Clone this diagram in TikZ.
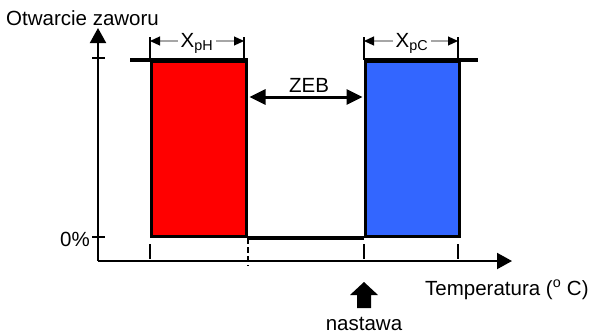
\documentclass[tikz,border=0pt]{standalone}
\usepackage{fontspec}
\setmainfont{Liberation Sans}
\usetikzlibrary{arrows.meta}
\definecolor{cblue}{RGB}{51,102,255}
\begin{document}
\begin{tikzpicture}[x=1pt,y=-1pt,
  lbl/.style={font=\fontsize{20.5}{24}\selectfont, inner sep=0pt},
  axis/.style={line width=2pt},
  tick/.style={line width=2pt},
  bar/.style={line width=4pt},
  box/.style={draw=black, line width=3pt, minimum width=95pt, minimum height=175pt, anchor=north west, inner sep=0pt},
  dim/.style={draw=gray!70, line width=1.2pt, -{Triangle[black,length=10pt,width=9pt]}},
  bigtip/.style={line width=3pt, {Triangle[length=16pt,width=15pt]}-{Triangle[length=16pt,width=15pt]}},
  axtip/.style={-{Triangle[length=15pt,width=16pt]}}
]
\useasboundingbox (0,0) rectangle (596,335);

% boxes
\node[box, fill=red] (hot) at (150,60) {};
\node[box, fill=cblue, minimum width=94pt] (cold) at (364,60) {};

% coordinates
\coordinate (O) at (98,261);
\coordinate (ytop) at (98,28);
\coordinate (xend) at (512,261);
\coordinate (hl) at (130,60);
\coordinate (cr) at (478,60);

% axes
\draw[axis, axtip] (O) -- (ytop);
\draw[axis, axtip] (O) -- (xend);
\draw[tick] (92,58) -- (105,58);
\draw[tick] (92,237) -- (105,237);
\foreach \x in {150,364,458} \draw[tick] (\x,244) -- (\x,259);

% top and bottom lines
\draw[line width=4pt] (hl) -- (hot.north east);
\draw[line width=4pt] (cold.north west) -- (cr);
\draw[bar] (hot.south east) -- (cold.south west);
\draw[line width=2pt, dash pattern=on 6pt off 3pt] (hot.south east) -- ++(0,28);

% dimension bars
\foreach \x in {150,244,364,458} \draw[line width=1.6pt] (\x,37) -- (\x,60);

% labels
\node[lbl, anchor=base west] (ylab) at (6,25) {Otwarcie zaworu};
\node[lbl, anchor=east] (zero) at (90,239) {0\%};
\node[lbl, anchor=base west] (xlab) at (425,295) {Temperatura (\textsuperscript{o} C)};
\node[lbl, anchor=base] (nast) at (364,330) {nastawa};
\node[lbl, anchor=base] (zeb) at (309,92) {ZEB};
\node[lbl, anchor=base] (xph) at (197,47) {X\textsubscript{pH}};
\node[lbl, anchor=base] (xpc) at (412,47) {X\textsubscript{pC}};

\coordinate (b1) at (150,41);
\coordinate (b2) at (244,41);
\coordinate (b3) at (364,41);
\coordinate (b4) at (458,41);
\draw[dim] ([xshift=-3pt]xph.west |- b1) -- (b1);
\draw[dim] ([xshift=3pt]xph.east |- b2) -- (b2);
\draw[dim] ([xshift=-3pt]xpc.west |- b3) -- (b3);
\draw[dim] ([xshift=3pt]xpc.east |- b4) -- (b4);

% ZEB arrow
\draw[bigtip] ([xshift=1.5pt]hot.east |- 0,97) -- ([xshift=-1.5pt]cold.west |- 0,97);

% setpoint arrow
\fill (364,282) -- (378,295) -- (371,295) -- (371,308) -- (357,308) -- (357,295) -- (350,295) -- cycle;
\end{tikzpicture}
\end{document}
